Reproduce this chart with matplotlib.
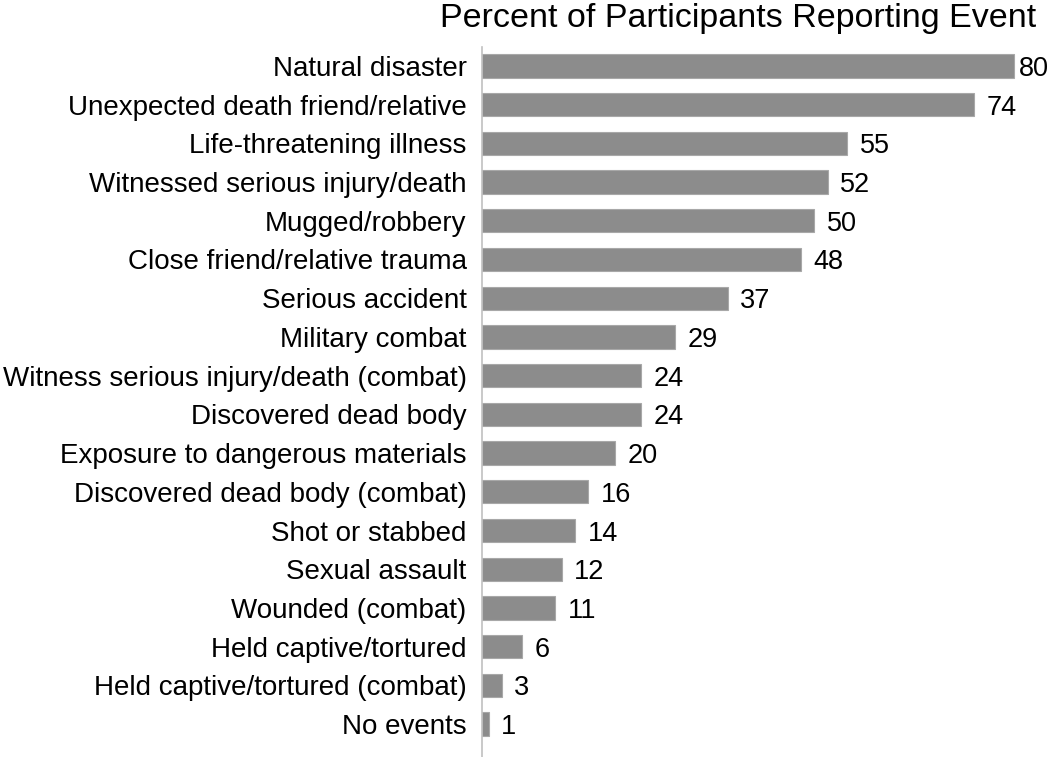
import matplotlib.pyplot as plt

plt.rcParams['font.family'] = ['Liberation Sans', 'DejaVu Sans']

# Datos
events = [
    "Natural disaster",
    "Unexpected death friend/relative",
    "Life-threatening illness",
    "Witnessed serious injury/death",
    "Mugged/robbery",
    "Close friend/relative trauma",
    "Serious accident",
    "Military combat",
    "Witness serious injury/death (combat)",
    "Discovered dead body",
    "Exposure to dangerous materials",
    "Discovered dead body (combat)",
    "Shot or stabbed",
    "Sexual assault",
    "Wounded (combat)",
    "Held captive/tortured",
    "Held captive/tortured (combat)",
    "No events",
]
percent = [80, 74, 55, 52, 50, 48, 37, 29, 24, 24, 20, 16, 14, 12, 11, 6, 3, 1]

fig = plt.figure(figsize=(10.5, 7.57), dpi=100)
ax = fig.add_axes([0.459, 0.0, 0.538, 0.938])

pos = list(range(len(events)))
ax.barh(pos, percent, height=0.6, color='#8c8c8c', edgecolor='#a8a8a8', linewidth=0.8)

# la etiqueta más larga va más pegada a la barra para que quepa
vmax = max(percent)
for y, v in zip(pos, percent):
    off = 4 if v == vmax else 9
    ax.annotate(str(v), xy=(v, y), xytext=(off, 0), textcoords='offset points',
                va='center_baseline', ha='left', fontsize=19.5)

ax.set_yticks(pos)
ax.set_yticklabels(events, fontsize=20, va='center_baseline')
ax.tick_params(axis='y', length=0, pad=11)
ax.set_xticks([])
ax.set_xlim(0, 85)
ax.set_ylim(17.85, -0.49)

for s in ['top', 'right', 'bottom']:
    ax.spines[s].set_visible(False)
ax.spines['left'].set_color('#c0c0c0')
ax.spines['left'].set_linewidth(1.2)

fig.text(0.703, 0.976, "Percent of Participants Reporting Event", ha='center', va='center', fontsize=24.5)

fig.savefig('out.png', dpi=100)
